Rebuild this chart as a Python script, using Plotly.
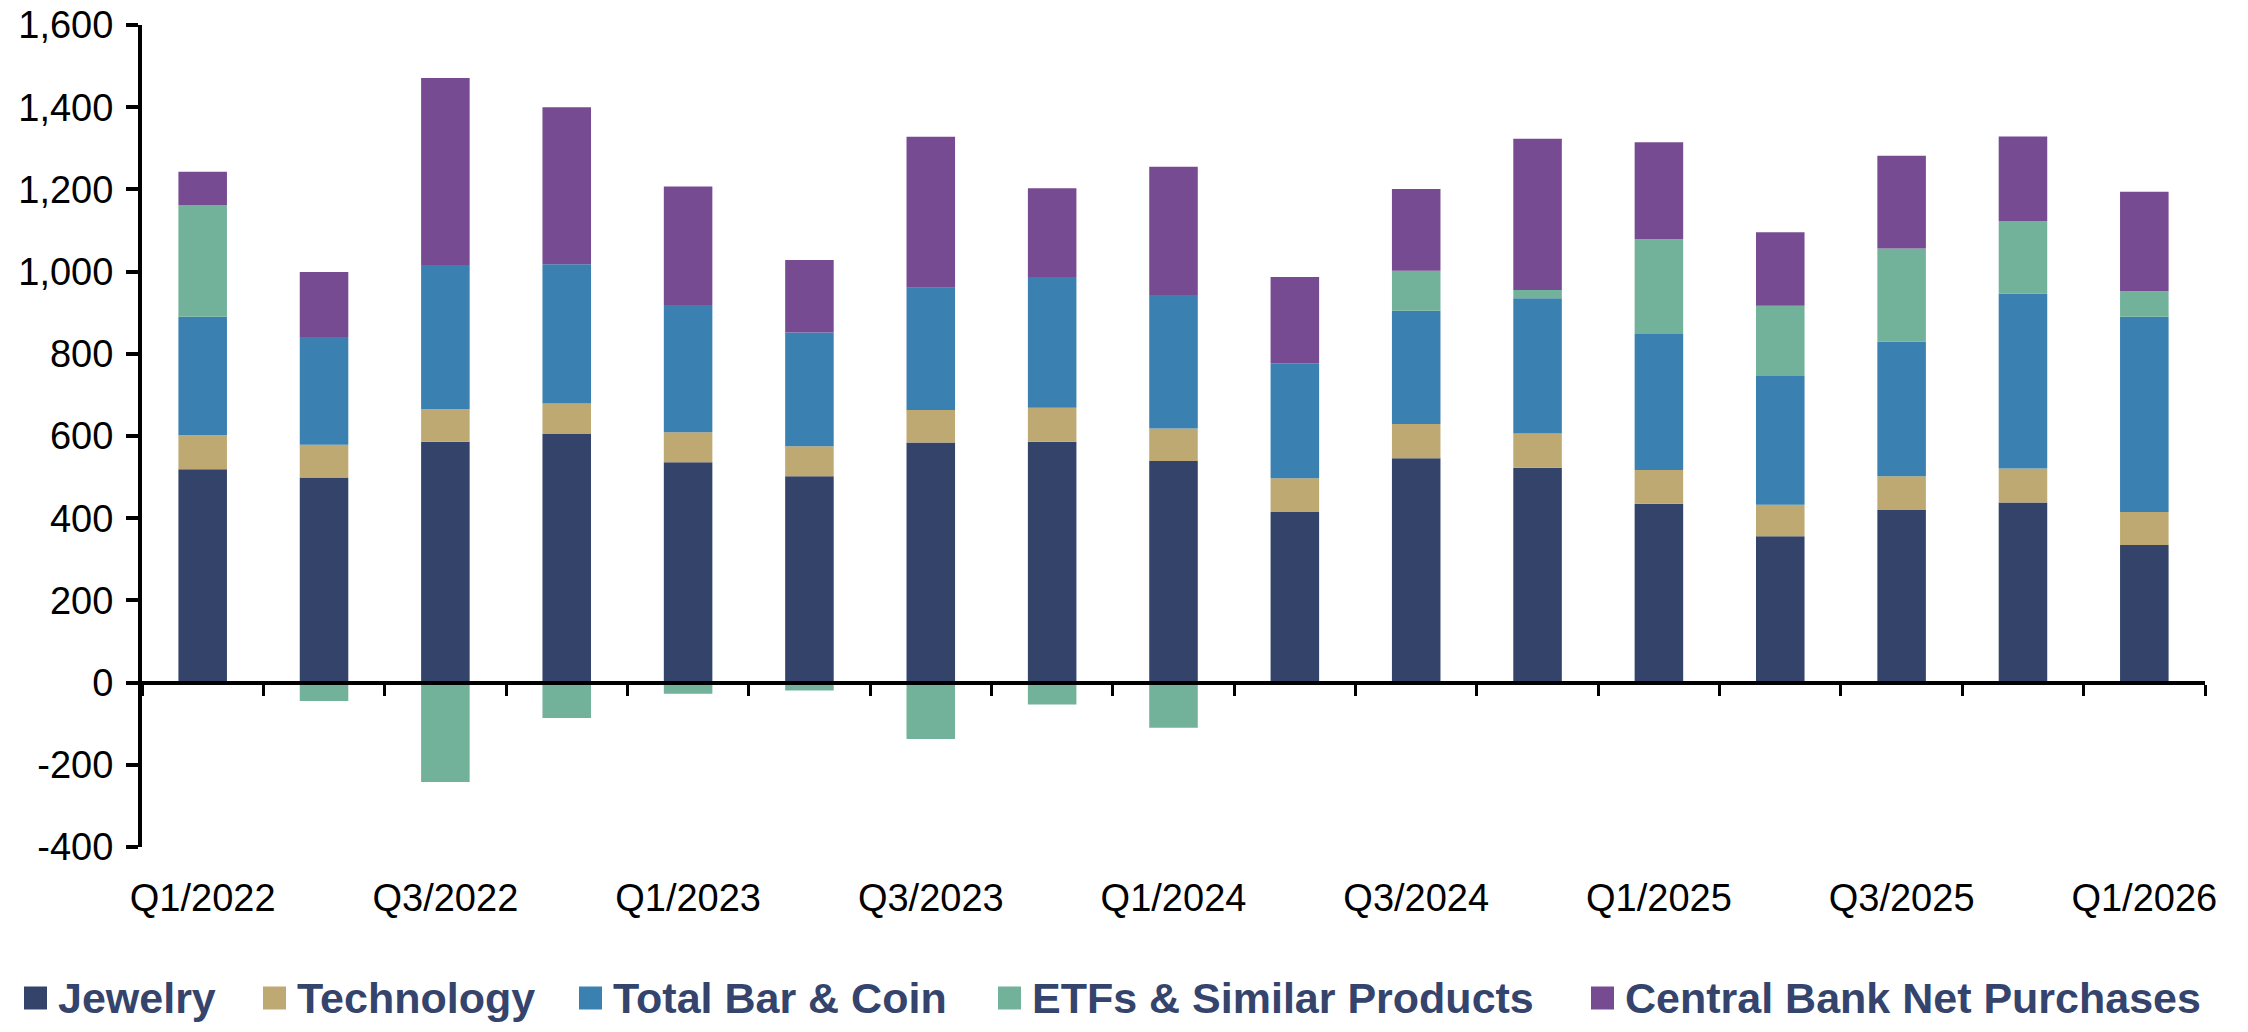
import plotly.graph_objects as go

quarters = ["Q1/2022", "Q2/2022", "Q3/2022", "Q4/2022",
            "Q1/2023", "Q2/2023", "Q3/2023", "Q4/2023",
            "Q1/2024", "Q2/2024", "Q3/2024", "Q4/2024",
            "Q1/2025", "Q2/2025", "Q3/2025", "Q4/2025",
            "Q1/2026"]
x_label_quarters = ["Q1/2022", "Q3/2022", "Q1/2023", "Q3/2023", "Q1/2024",
                    "Q3/2024", "Q1/2025", "Q3/2025", "Q1/2026"]

jewelry = [519, 499, 586, 605, 536, 502, 584, 586, 539, 415, 546, 523, 435, 356, 420, 438, 335]
technology = [83, 80, 79, 74, 73, 73, 79, 83, 79, 82, 83, 83, 82, 77, 82, 83, 80]
bar_coin = [288, 262, 351, 339, 310, 277, 298, 318, 325, 280, 276, 329, 331, 313, 328, 426, 475]
etfs = [272, -45, -242, -86, -27, -19, -137, -53, -110, 0, 97, 20, 231, 171, 226, 176, 62]
central_bank = [81, 158, 455, 382, 288, 176, 367, 216, 312, 210, 199, 368, 236, 179, 226, 206, 242]

series_names = ["Jewelry", "Technology", "Total Bar & Coin",
                "ETFs & Similar Products", "Central Bank Net Purchases"]
series_values = [jewelry, technology, bar_coin, etfs, central_bank]
series_colors = ["#334369", "#BFA972", "#3A80B1", "#72B29A", "#774B91"]

y_tick_values = [-400, -200, 0, 200, 400, 600, 800, 1000, 1200, 1400, 1600]
y_tick_labels = ["-400", "-200", "0", "200", "400", "600", "800",
                 "1,000", "1,200", "1,400", "1,600"]

FONT = "Liberation Sans, Arial, sans-serif"
W, H = 2248, 1032
ML, MR, MT, MB = 142, 43, 25, 185
PW, PH = W - ML - MR, H - MT - MB


def px_to_paper_x(px):
    return (px - ML) / PW


def px_to_paper_y(py):
    return (H - MB - py) / PH


fig = go.Figure()
for name, vals, col in zip(series_names, series_values, series_colors):
    fig.add_trace(go.Bar(
        x=quarters, y=vals, name=name,
        marker=dict(color=col, line=dict(width=0)),
        xaxis="x", yaxis="y", showlegend=False,
    ))

# invisible helper trace to populate the label axis categories
fig.add_trace(go.Scatter(
    x=quarters, y=[0] * len(quarters), xaxis="x2", yaxis="y",
    mode="markers", marker=dict(opacity=0), showlegend=False, hoverinfo="skip",
))

# legend drawn as coloured squares + text (larger swatches than native legend)
legend_square_left = [24, 263, 579, 998, 1591]
SQ = 23
LEG_CY = 998
for name, col, sx in zip(series_names, series_colors, legend_square_left):
    fig.add_shape(
        type="rect", xref="paper", yref="paper",
        x0=px_to_paper_x(sx), x1=px_to_paper_x(sx + SQ),
        y0=px_to_paper_y(LEG_CY + SQ / 2), y1=px_to_paper_y(LEG_CY - SQ / 2),
        fillcolor=col, line=dict(width=0), layer="above",
    )
    fig.add_annotation(
        xref="paper", yref="paper",
        x=px_to_paper_x(sx + SQ + 10), y=px_to_paper_y(LEG_CY),
        xanchor="left", yanchor="middle", showarrow=False,
        text=f"<b>{name.replace('&', '&amp;')}</b>",
        font=dict(family=FONT, size=43, color="#34446C"),
        borderpad=0,
    )

fig.update_layout(
    width=W, height=H,
    margin=dict(l=ML, r=MR, t=MT, b=MB, autoexpand=False),
    paper_bgcolor="white", plot_bgcolor="white",
    barmode="relative", bargap=0.6,
    font=dict(family=FONT, size=38, color="black"),
    xaxis=dict(
        type="category", categoryorder="array", categoryarray=quarters,
        range=[-0.5, len(quarters) - 0.5],
        anchor="free", position=0.2,
        showline=True, linecolor="black", linewidth=4,
        ticks="outside", tickson="boundaries", ticklen=11, tickwidth=3,
        tickcolor="black", showticklabels=False, showgrid=False, zeroline=False,
    ),
    xaxis2=dict(
        type="category", categoryorder="array", categoryarray=quarters,
        range=[-0.5, len(quarters) - 0.5],
        overlaying="x", anchor="y", side="bottom",
        showline=False, ticks="", showgrid=False, zeroline=False,
        tickmode="array", tickvals=x_label_quarters, ticktext=x_label_quarters,
        tickfont=dict(family=FONT, size=38, color="black"),
        ticklabelstandoff=25,
    ),
    yaxis=dict(
        range=[-400, 1600],
        tickmode="array", tickvals=y_tick_values, ticktext=y_tick_labels,
        showline=True, linecolor="black", linewidth=4,
        ticks="outside", ticklen=12, tickwidth=4, tickcolor="black",
        tickfont=dict(family=FONT, size=38, color="black"),
        ticklabelstandoff=5,
        showgrid=False, zeroline=False,
    ),
    showlegend=False,
)

fig.write_html("out.html")
